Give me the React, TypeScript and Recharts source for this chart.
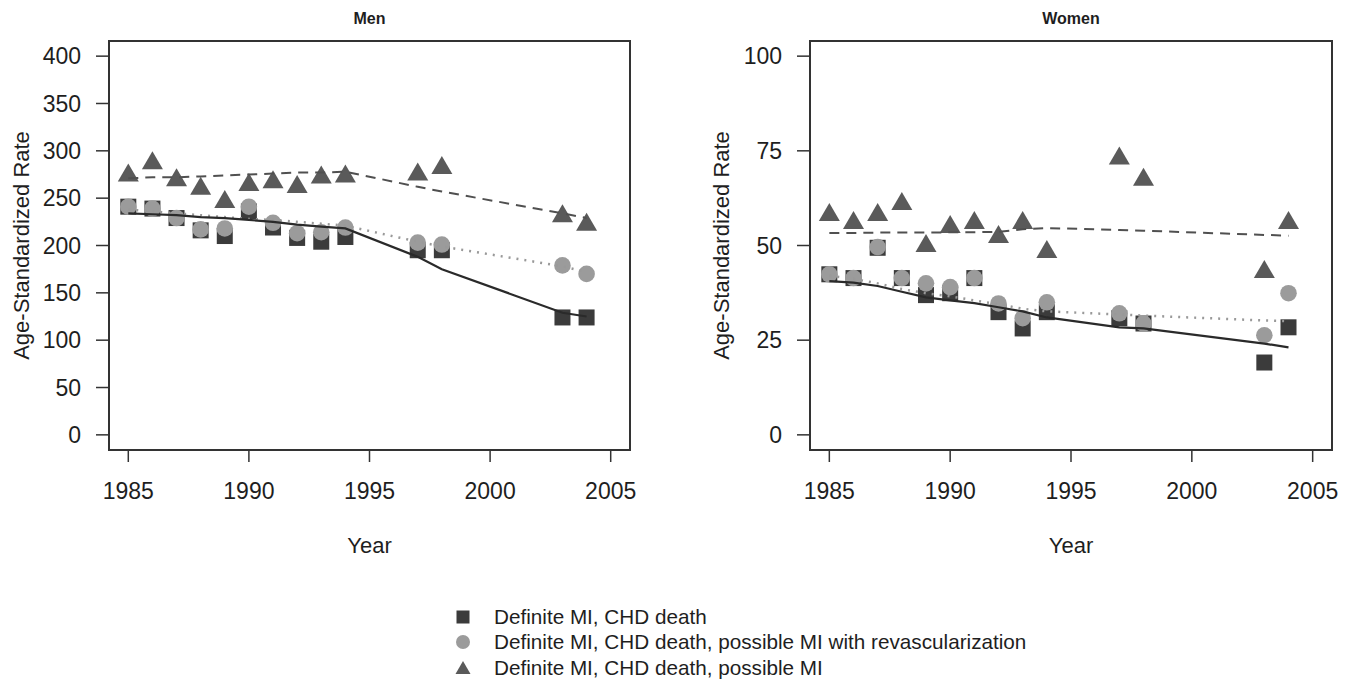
import { ScatterChart, Scatter, XAxis, YAxis, ReferenceArea } from "recharts";

const FONT = "'Liberation Sans', Arial, Helvetica, sans-serif";

const years = [1985, 1986, 1987, 1988, 1989, 1990, 1991, 1992, 1993, 1994, 1997, 1998, 2003, 2004];
const xTicks = [1985, 1990, 1995, 2000, 2005];
const menTicks = [0, 50, 100, 150, 200, 250, 300, 350, 400];
const womenTicks = [0, 25, 50, 75, 100];

// Men: observed rates
const menDefinite = [241, 239, 229, 216, 210, 236, 219, 208, 204, 209, 195, 195, 124, 124];
const menRevasc = [241, 239, 229, 217, 218, 241, 224, 213, 214, 219, 203, 201, 179, 170];
const menPossible = [276, 289, 271, 262, 248, 266, 269, 264, 274, 275, 277, 284, 233, 224];
// Men: fitted trends
const menDefiniteFit = [234, 233, 232, 230, 229, 227, 225, 222, 220, 218, 188, 175, 129, 125];
const menRevascFit = [238, 236, 234, 232, 230, 228, 227, 225, 223, 221, 204, 199, 178, 172];
const menPossibleFit = [271, 272, 272, 273, 274, 275, 276, 277, 277, 278, 262, 257, 234, 229];

// Women: observed rates
const womenDefinite = [42.4, 41.4, 49.4, 41.4, 36.9, 37.4, 41.4, 32.4, 28.1, 32.4, 30.8, 29.4, 19.1, 28.4];
const womenRevasc = [42.4, 41.4, 49.6, 41.4, 40.0, 39.0, 41.4, 34.7, 30.8, 35.0, 32.1, 29.4, 26.3, 37.4];
const womenPossible = [58.6, 56.5, 58.6, 61.5, 50.4, 55.4, 56.5, 52.8, 56.5, 48.8, 73.5, 67.9, 43.5, 56.5];
// Women: fitted trends
const womenDefiniteFit = [40.6, 40.2, 39.3, 37.8, 36.3, 35.5, 34.8, 33.7, 32.6, 31.0, 28.4, 28.1, 24.1, 23.1];
const womenRevascFit = [42.0, 41.2, 40.0, 38.5, 37.4, 36.6, 35.5, 34.5, 33.3, 32.6, 31.8, 31.5, 30.2, 30.0];
const womenPossibleFit = [53.3, 53.3, 53.4, 53.4, 53.4, 53.5, 53.5, 53.6, 54.3, 54.6, 54.1, 53.9, 52.8, 52.6];

const legendLabels = [
  "Definite MI, CHD death",
  "Definite MI, CHD death, possible MI with revascularization",
  "Definite MI, CHD death, possible MI",
];

const SQUARE = "#3b3b3b";
const CIRCLE = "#9b9b9b";
const TRIANGLE = "#5a5a5a";
const INK = "#1e1e1e";

const pts = (ys: number[]) => years.map((x, i) => ({ x, y: ys[i] }));

const Square = (p: any) => <rect x={p.cx - 8} y={p.cy - 8} width={16} height={16} fill={SQUARE} />;
const Dot = (p: any) => <circle cx={p.cx} cy={p.cy} r={8.3} fill={CIRCLE} />;
const Tri = (p: any) => (
  <polygon
    points={`${p.cx},${p.cy - 10} ${p.cx + 10.5},${p.cy + 8} ${p.cx - 10.5},${p.cy + 8}`}
    fill={TRIANGLE}
  />
);
const NoShape = () => <g />;

function Panel(props: {
  title: string;
  left: number;
  width: number;
  yAxisWidth: number;
  marginRight: number;
  yDomain: [number, number];
  yTicks: number[];
  definite: number[];
  revasc: number[];
  possible: number[];
  definiteFit: number[];
  revascFit: number[];
  possibleFit: number[];
}) {
  const yLabel = (lp: any) => {
    const vb = lp.viewBox;
    const cx = vb.x + 29;
    const cy = vb.y + vb.height / 2;
    return (
      <text
        x={cx}
        y={cy}
        transform={`rotate(-90, ${cx}, ${cy})`}
        textAnchor="middle"
        fontSize={22}
        fill={INK}
      >
        Age-Standardized Rate
      </text>
    );
  };

  const titleLabel = (lp: any) => {
    const vb = lp.viewBox;
    return (
      <text
        x={vb.x + vb.width / 2}
        y={vb.y - 17}
        textAnchor="middle"
        fontSize={16}
        fontWeight="bold"
        fill={INK}
      >
        {props.title}
      </text>
    );
  };

  return (
    <div style={{ position: "absolute", left: props.left, top: 0 }}>
      <ScatterChart
        width={props.width}
        height={600}
        margin={{ top: 41, right: props.marginRight, bottom: 0, left: 0 }}
      >
        <XAxis
          type="number"
          dataKey="x"
          domain={[1984.2, 2005.8]}
          allowDataOverflow
          ticks={xTicks}
          height={150}
          axisLine={false}
          tickSize={12}
          tickMargin={21}
          tickLine={{ stroke: "#333", strokeWidth: 1.5 }}
          tick={{ fontSize: 23, fill: INK }}
          label={{ value: "Year", position: "insideTop", offset: 87, fontSize: 22, fill: INK }}
        />
        <YAxis
          type="number"
          dataKey="y"
          domain={props.yDomain}
          allowDataOverflow
          ticks={props.yTicks}
          width={props.yAxisWidth}
          axisLine={false}
          tickSize={13}
          tickMargin={15}
          tickLine={{ stroke: "#333", strokeWidth: 1.5 }}
          tick={{ fontSize: 23, fill: INK }}
          label={yLabel}
        />
        <ReferenceArea
          x1={1984.2}
          x2={2005.8}
          y1={props.yDomain[0]}
          y2={props.yDomain[1]}
          fill="none"
          stroke="#333"
          strokeWidth={2}
          label={titleLabel}
        />
        <Scatter data={pts(props.definite)} shape={Square} isAnimationActive={false} />
        <Scatter data={pts(props.revasc)} shape={Dot} isAnimationActive={false} />
        <Scatter data={pts(props.possible)} shape={Tri} isAnimationActive={false} />
        <Scatter
          data={pts(props.possibleFit)}
          shape={NoShape}
          line={{ stroke: "#505050", strokeWidth: 2, strokeDasharray: "10 7" }}
          lineType="joint"
          isAnimationActive={false}
        />
        <Scatter
          data={pts(props.revascFit)}
          shape={NoShape}
          line={{ stroke: "#999", strokeWidth: 2.5, strokeDasharray: "2 6" }}
          lineType="joint"
          isAnimationActive={false}
        />
        <Scatter
          data={pts(props.definiteFit)}
          shape={NoShape}
          line={{ stroke: "#2a2a2a", strokeWidth: 2.2 }}
          lineType="joint"
          isAnimationActive={false}
        />
      </ScatterChart>
    </div>
  );
}

function LegendMarker({ i }: { i: number }) {
  return (
    <svg width={20} height={20} style={{ display: "block" }}>
      {i === 0 && <rect x={3.5} y={3.5} width={13} height={13} fill={SQUARE} />}
      {i === 1 && <circle cx={10} cy={10} r={7} fill={CIRCLE} />}
      {i === 2 && <polygon points="10,3 17.5,16 2.5,16" fill={TRIANGLE} />}
    </svg>
  );
}

export default function App() {
  return (
    <div
      style={{
        position: "absolute",
        left: 0,
        top: 0,
        width: 1351,
        height: 681,
        overflow: "hidden",
        background: "#fff",
        fontFamily: FONT,
      }}
    >
      <Panel
        title="Men"
        left={0}
        width={660}
        yAxisWidth={109}
        marginRight={30}
        yDomain={[-16, 416]}
        yTicks={menTicks}
        definite={menDefinite}
        revasc={menRevasc}
        possible={menPossible}
        definiteFit={menDefiniteFit}
        revascFit={menRevascFit}
        possibleFit={menPossibleFit}
      />
      <Panel
        title="Women"
        left={700}
        width={651}
        yAxisWidth={110}
        marginRight={19}
        yDomain={[-4, 104]}
        yTicks={womenTicks}
        definite={womenDefinite}
        revasc={womenRevasc}
        possible={womenPossible}
        definiteFit={womenDefiniteFit}
        revascFit={womenRevascFit}
        possibleFit={womenPossibleFit}
      />
      <div style={{ position: "absolute", left: 453, top: 604 }}>
        {legendLabels.map((t, i) => (
          <div key={t} style={{ display: "flex", alignItems: "center", height: 25.5 }}>
            <LegendMarker i={i} />
            <span style={{ marginLeft: 21, fontSize: 20.7, color: INK, whiteSpace: "nowrap" }}>{t}</span>
          </div>
        ))}
      </div>
    </div>
  );
}
